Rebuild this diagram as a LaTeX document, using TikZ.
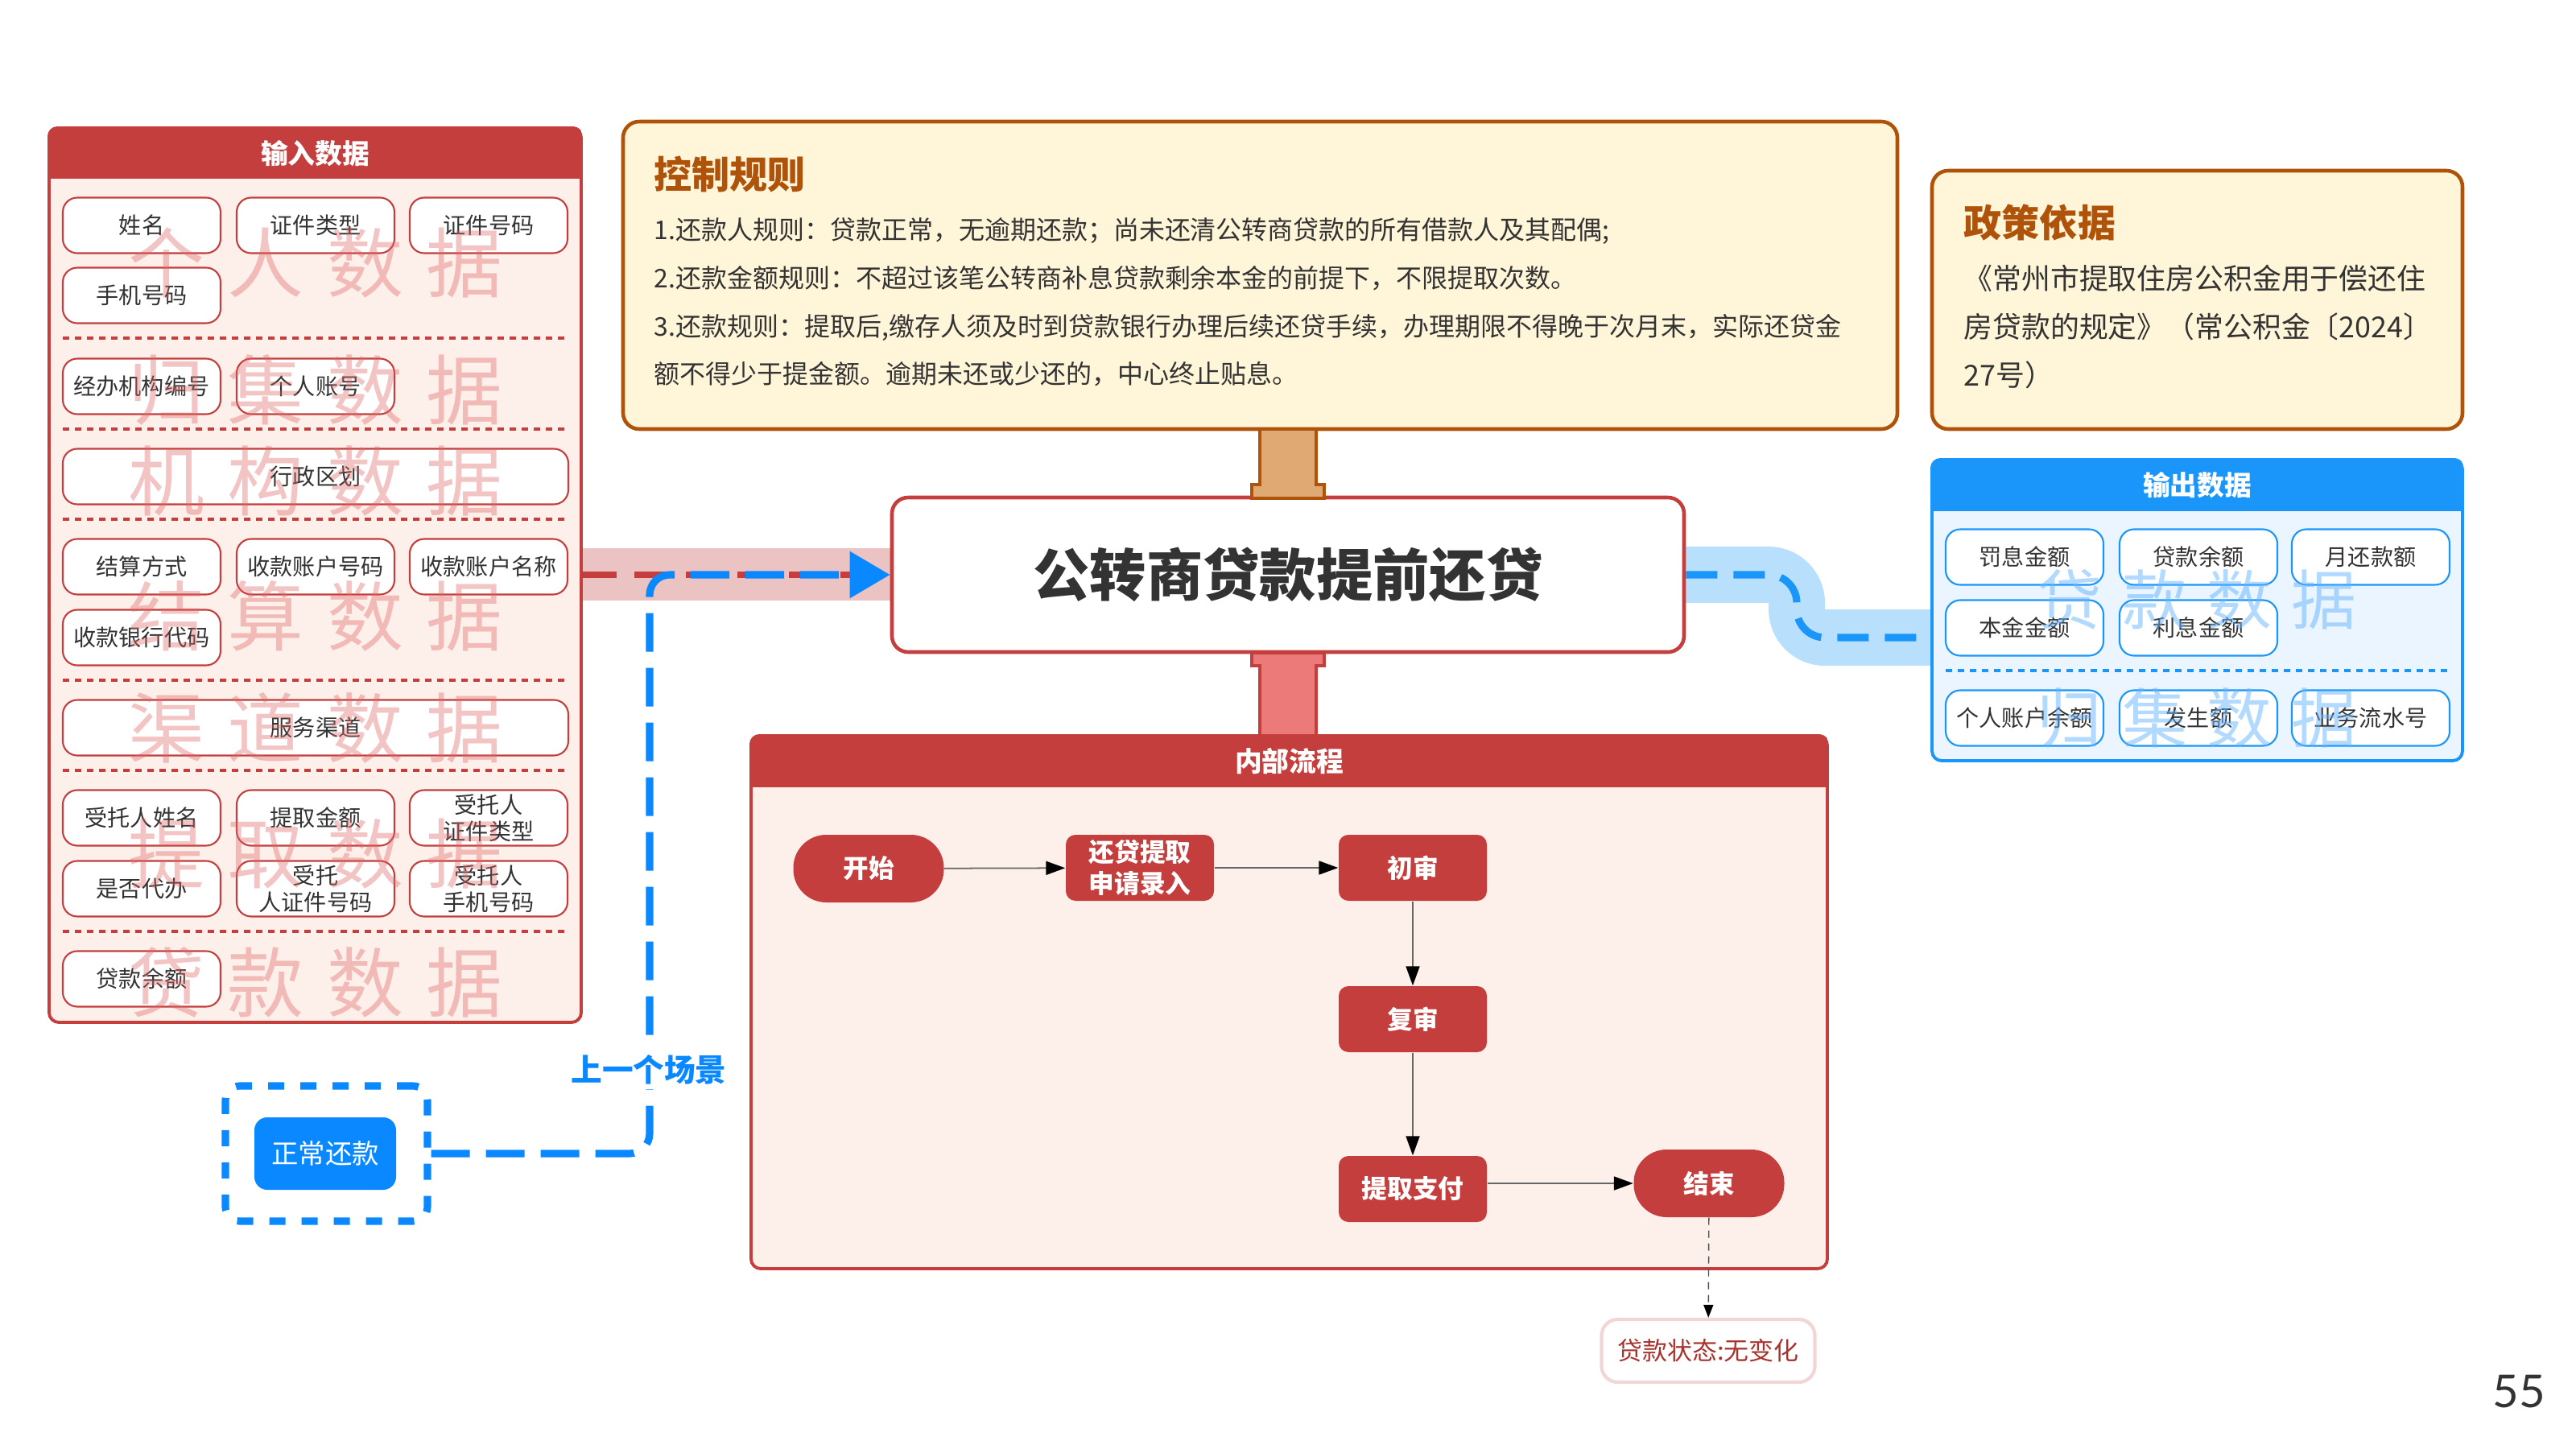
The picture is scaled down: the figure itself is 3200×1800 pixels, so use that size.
\documentclass[tikz,border=0pt]{standalone}
\usepackage{fontspec}
\setmainfont{Noto Sans CJK SC}
\newfontfamily\numfont{Lato}
\usepackage{xcolor}
\usetikzlibrary{arrows.meta,backgrounds}
\definecolor{InRed}{HTML}{C43E3E}
\definecolor{InBg}{HTML}{FDEFEA}
\definecolor{WmRed}{HTML}{E06666}
\definecolor{RuleEdge}{HTML}{B0530A}
\definecolor{RuleBg}{HTML}{FFF5D8}
\definecolor{PillarA}{HTML}{E0A872}
\definecolor{PillarB}{HTML}{EC7A78}
\definecolor{OutBlue}{HTML}{1A96FA}
\definecolor{OutBg}{HTML}{EAF5FF}
\definecolor{WmBlue}{HTML}{66B5FF}
\definecolor{BandBlue}{HTML}{B8E0FD}
\definecolor{BandPink}{HTML}{EBC3C3}
\definecolor{LinkBlue}{HTML}{0A88FF}
\definecolor{Txt}{HTML}{333333}
\definecolor{StateRed}{HTML}{A8322D}
\newcommand{\wmsp}{\hspace{0.3em}}
\tikzset{
  panelbox/.style={rounded corners=1.2mm, line width=1.1pt, inner sep=0pt},
  headtext/.style={text=white, font=\fontsize{9.6}{11}\selectfont\bfseries},
  itembox/.style={draw=InRed, fill=white, rounded corners=1.8mm, line width=0.6pt, minimum width=19.6mm, minimum height=6.9mm, inner sep=0pt, align=center, text=Txt, font=\fontsize{8}{9.4}\selectfont},
  itemwide/.style={itembox, minimum width=62.8mm},
  outitem/.style={itembox, draw=OutBlue},
  sepline/.style={draw=InRed, line width=0.9pt, dash pattern=on 0.8mm off 0.7mm},
  outsepline/.style={sepline, draw=OutBlue},
  watermark/.style={text=WmRed, text opacity=0.38, font=\fontsize{27}{27}\selectfont},
  outwatermark/.style={watermark, text=WmBlue, text opacity=0.5, font=\fontsize{23}{23}\selectfont},
  ruletitle/.style={anchor=west, inner sep=0pt, text=RuleEdge, font=\fontsize{13.4}{15}\selectfont\bfseries},
  ruletext/.style={anchor=west, align=left, text=Txt, inner sep=0pt, font=\fontsize{9.1}{17}\selectfont},
  policytext/.style={ruletext, font=\fontsize{10.2}{17}\selectfont},
  flowbox/.style={fill=InRed, text=white, rounded corners=1.2mm, minimum width=18.4mm, minimum height=8.2mm, inner sep=0pt, align=center, font=\fontsize{9}{11}\selectfont\bfseries},
  flowround/.style={flowbox, rounded corners=4.1mm, minimum width=18.7mm, minimum height=8.4mm},
  flowarrow/.style={draw=black!60, line width=0.5pt, -{Triangle[length=2.4mm, width=1.7mm, color=black]}},
  statearrow/.style={draw=black!70, line width=0.4pt, dash pattern=on 0.9mm off 0.7mm, -{Triangle[length=1.6mm, width=1.2mm, color=black]}},
  statebox/.style={draw=InRed!22, fill=white, line width=1.2pt, rounded corners=2mm, minimum width=26.5mm, minimum height=7.8mm, text=StateRed, font=\fontsize{8.8}{10}\selectfont},
  pinkband/.style={draw=BandPink, line width=6.5mm},
  blueband/.style={draw=BandBlue, line width=7mm, rounded corners=3.5mm},
  reddash/.style={draw=InRed, line width=2.3pt, dash pattern=on 4.2mm off 2.2mm},
  bluedash/.style={draw=OutBlue, line width=2.6pt, dash pattern=on 3.9mm off 2mm, rounded corners=3.5mm},
  linkline/.style={draw=LinkBlue, line width=2.6pt, dash pattern=on 4.8mm off 2mm, rounded corners=2.5mm, -{Triangle[length=5mm, width=5.6mm]}},
  prevframe/.style={draw=LinkBlue, line width=2.6pt, dash pattern=on 2mm off 2mm, rounded corners=1.8mm, minimum width=25.1mm, minimum height=16.8mm},
  prevbox/.style={fill=LinkBlue, text=white, rounded corners=1.6mm, minimum width=17.6mm, minimum height=9mm, font=\fontsize{9.5}{11}\selectfont},
  toppillar/.style={fill=PillarA, draw=RuleEdge, line width=1pt},
  botpillar/.style={fill=PillarB, draw=InRed, line width=1pt},
}
\begin{document}
\begin{tikzpicture}[x=0.1mm, y=-0.1mm]
\useasboundingbox (0,0) rectangle (3200,1800);

\node[panelbox, draw=InRed, fill=InBg, minimum width=66.1mm, minimum height=111.1mm] (inpanel) at (391.5,714.5) {};
\begin{scope}
\clip[rounded corners=1.2mm] (inpanel.north west) rectangle (inpanel.south east);
\fill[InRed] (inpanel.north west) rectangle (722,222);
\end{scope}
\node[headtext] (inhead) at (391.5,191) {输入数据};
\node[itembox] (name) at (176,280) {姓名};
\node[itembox] (idtype) at (392,280) {证件类型};
\node[itembox] (idno) at (607,280) {证件号码};
\node[itembox] (phone) at (176,367) {手机号码};
\node[itembox] (orgno) at (176,480) {经办机构编号};
\node[itembox] (acctno) at (392,480) {个人账号};
\node[itemwide] (region) at (392,592) {行政区划};
\node[itembox] (settle) at (176,704) {结算方式};
\node[itembox] (payacct) at (392,704) {收款账户号码};
\node[itembox] (payname) at (607,704) {收款账户名称};
\node[itembox] (bankcode) at (176,792) {收款银行代码};
\node[itemwide] (channel) at (392,904) {服务渠道};
\node[itembox] (agentname) at (176,1016) {受托人姓名};
\node[itembox] (amount) at (392,1016) {提取金额};
\node[itembox] (agentidtype) at (607,1016) {受托人\\证件类型};
\node[itembox] (proxy) at (176,1104) {是否代办};
\node[itembox] (agentidno) at (392,1104) {受托\\人证件号码};
\node[itembox] (agentphone) at (607,1104) {受托人\\手机号码};
\node[itembox] (loanbal) at (176,1216) {贷款余额};
\foreach \y in {420,533,645,845,957,1157}
  \draw[sepline] (78,\y) -- (706,\y);
\node[watermark] (wmperson) at (392,327) {个\wmsp 人\wmsp 数\wmsp 据};
\node[watermark] (wmcollect) at (392,484) {归\wmsp 集\wmsp 数\wmsp 据};
\node[watermark] (wmorg) at (392,598) {机\wmsp 构\wmsp 数\wmsp 据};
\node[watermark] (wmsettle) at (392,765) {结\wmsp 算\wmsp 数\wmsp 据};
\node[watermark] (wmchannel) at (392,904) {渠\wmsp 道\wmsp 数\wmsp 据};
\node[watermark] (wmdraw) at (392,1061) {提\wmsp 取\wmsp 数\wmsp 据};
\node[watermark] (wmloan) at (392,1220) {贷\wmsp 款\wmsp 数\wmsp 据};

\node[panelbox, draw=RuleEdge, fill=RuleBg, line width=1.3pt, rounded corners=2mm, minimum width=158.3mm, minimum height=38.2mm] (rules) at (1565.5,342) {};
\node[ruletitle] (rulehead) at (812,216) {控制规则};
\node[ruletext] (rulelines) at (812,375.5) {1.还款人规则：贷款正常，无逾期还款；尚未还清公转商贷款的所有借款人及其配偶;\\2.还款金额规则：不超过该笔公转商补息贷款剩余本金的前提下，不限提取次数。\\3.还款规则：提取后,缴存人须及时到贷款银行办理后续还贷手续，办理期限不得晚于次月末，实际还贷金\\额不得少于提金额。逾期未还或少还的，中心终止贴息。};

\node[panelbox, draw=RuleEdge, fill=RuleBg, line width=1.3pt, rounded corners=2mm, minimum width=65.9mm, minimum height=32.1mm] (policy) at (2729.5,372.5) {};
\node[ruletitle] (policyhead) at (2439,276) {政策依据};
\node[policytext] (policylines) at (2439,406) {《常州市提取住房公积金用于偿还住\\房贷款的规定》（常公积金〔2024〕\\27号）};

\node[panelbox, draw=OutBlue, fill=OutBg, minimum width=65.9mm, minimum height=37.4mm] (outpanel) at (2729.5,758) {};
\begin{scope}
\clip[rounded corners=1.2mm] (outpanel.north west) rectangle (outpanel.south east);
\fill[OutBlue] (outpanel.north west) rectangle (3059,635);
\end{scope}
\node[headtext] (outhead) at (2729.5,603) {输出数据};
\node[outitem] (penalty) at (2515,692) {罚息金额};
\node[outitem] (remain) at (2731,692) {贷款余额};
\node[outitem] (monthly) at (2945,692) {月还款额};
\node[outitem] (principal) at (2515,780) {本金金额};
\node[outitem] (interest) at (2731,780) {利息金额};
\draw[outsepline] (2417,833) -- (3043,833);
\node[outitem] (acctbal) at (2515,892) {个人账户余额};
\node[outitem] (occur) at (2731,892) {发生额};
\node[outitem] (serial) at (2945,892) {业务流水号};
\node[outwatermark] (wmoutloan) at (2729,745) {贷\wmsp 款\wmsp 数\wmsp 据};
\node[outwatermark] (wmoutcollect) at (2729,892) {归\wmsp 集\wmsp 数\wmsp 据};

\node[draw=InRed, fill=white, line width=1.3pt, rounded corners=2mm, minimum width=98.4mm, minimum height=19.2mm, text=Txt, font=\fontsize{20}{22}\selectfont\bfseries] (maintitle) at (1600,714) {公转商贷款提前还贷};
\filldraw[toppillar] (1555,619) -- (1555,602) -- (1565,602) -- (1565,533) -- (1635,533) -- (1635,602) -- (1645,602) -- (1645,619) -- cycle;

\node[panelbox, draw=InRed, fill=InBg, minimum width=133.7mm, minimum height=66.2mm] (flowpanel) at (1601.5,1245) {};
\begin{scope}
\clip[rounded corners=1.2mm] (flowpanel.north west) rectangle (flowpanel.south east);
\fill[InRed] (flowpanel.north west) rectangle (2270,978);
\end{scope}
\node[headtext] (flowhead) at (1601.5,946) {内部流程};
\filldraw[botpillar] (1555,811) -- (1645,811) -- (1645,827) -- (1635,827) -- (1635,914) -- (1565,914) -- (1565,827) -- (1555,827) -- cycle;
\node[flowround] (start) at (1079,1079) {开始};
\node[flowbox] (apply) at (1416,1078) {还贷提取\\申请录入};
\node[flowbox] (first) at (1755,1078) {初审};
\node[flowbox] (second) at (1755,1266) {复审};
\node[flowbox] (pay) at (1755,1477) {提取支付};
\node[flowround] (finish) at (2123,1470) {结束};
\node[statebox] (state) at (2122,1678) {贷款状态:无变化};
\draw[flowarrow] (start) -- (apply);
\draw[flowarrow] (apply) -- (first);
\draw[flowarrow] (first) -- (second);
\draw[flowarrow] (second) -- (pay);
\draw[flowarrow] (pay.east |- finish.west) -- (finish.west);
\draw[statearrow] (finish) -- (state);

\node[prevframe] (prevscene) at (405.5,1433) {};
\node[prevbox] (normalpay) at (404,1433) {正常还款};
\draw[linkline] (prevscene.east) -- (807,1433) -- (807,714) -- (maintitle.west);
\node[fill=white, text=LinkBlue, inner sep=1.5pt, font=\fontsize{11}{13}\selectfont\bfseries] (prevlabel) at (806,1329) {上一个场景};

\node[text=Txt, font=\numfont\fontsize{16}{18}\selectfont] (pagenum) at (3129,1729) {55};

\begin{scope}[on background layer]
\draw[pinkband] (inpanel.east |- maintitle.west) -- (maintitle.west);
\draw[reddash] (inpanel.east |- maintitle.west) -- (maintitle.west);
\draw[blueband] (maintitle.east) -- (2232,714) -- (2232,792) -- (outpanel.west |- 2232,792);
\draw[bluedash] (maintitle.east) -- (2232,714) -- (2232,792) -- (outpanel.west |- 2232,792);
\end{scope}
\end{tikzpicture}
\end{document}
